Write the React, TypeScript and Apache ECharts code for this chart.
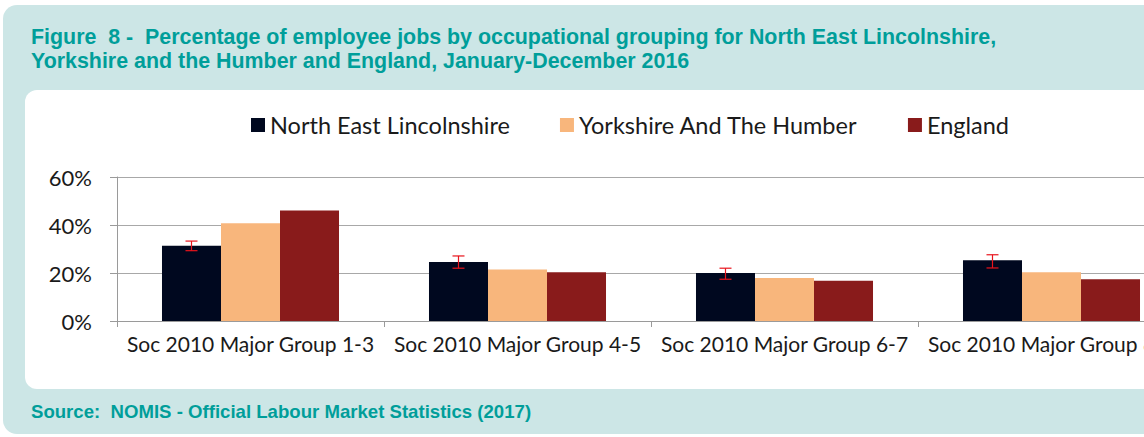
import React, { useEffect, useRef } from "react";
import * as echarts from "echarts";

const categories = [
  "Soc 2010 Major Group 1-3",
  "Soc 2010 Major Group 4-5",
  "Soc 2010 Major Group 6-7",
  "Soc 2010 Major Group 8-9",
];
const seriesNames = ["North East Lincolnshire", "Yorkshire And The Humber", "England"];
const northEastLincs = [31.4, 24.6, 20.0, 25.3];
const yorkshireHumber = [40.7, 21.5, 17.9, 20.3];
const england = [46.0, 20.3, 16.8, 17.4];
const nelLower = [29.3, 22.0, 17.4, 22.1];
const nelUpper = [33.3, 27.1, 22.0, 27.6];
const yTicks = [0, 20, 40, 60];

const titleLines = [
  "Figure  8 -  Percentage of employee jobs by occupational grouping for North East Lincolnshire,",
  "Yorkshire and the Humber and England, January-December 2016",
];
const sourceText = "Source:  NOMIS - Official Labour Market Statistics (2017)";

const COLORS = ["#00081f", "#f8b67c", "#891b1b"];
const CAT_GAP = 0.337;
const CHART_W = 1200;

export default function App() {
  const ref = useRef<HTMLDivElement>(null);
  useEffect(() => {
    if (!ref.current) return;
    const chart = echarts.init(ref.current, undefined, { renderer: "svg" });
    const teal = "#009e9a";
    chart.setOption({
      animation: false,
      backgroundColor: "#ffffff",
      graphic: [
        {
          type: "rect",
          z: -10,
          shape: { x: 3, y: 5, width: 1250, height: 429, r: 14 },
          style: { fill: "#cce6e6" },
        },
        {
          type: "rect",
          z: -9,
          shape: { x: 25, y: 90, width: 1250, height: 299, r: 12 },
          style: { fill: "#ffffff" },
        },
        {
          type: "text",
          x: 31,
          y: 37,
          style: {
            text: titleLines[0],
            font: 'bold 21.4px "Liberation Sans", Arial, sans-serif',
            fill: teal,
            verticalAlign: "middle",
          },
        },
        {
          type: "text",
          x: 31,
          y: 61,
          style: {
            text: titleLines[1],
            font: 'bold 21.4px "Liberation Sans", Arial, sans-serif',
            fill: teal,
            verticalAlign: "middle",
          },
        },
        {
          type: "text",
          x: 31,
          y: 411,
          style: {
            text: sourceText,
            font: 'bold 18.6px "Liberation Sans", Arial, sans-serif',
            fill: teal,
            verticalAlign: "middle",
          },
        },
      ],
      legend: {
        data: seriesNames,
        left: 246,
        top: 108,
        itemWidth: 14,
        itemHeight: 14,
        itemGap: 50,
        icon: "rect",
        textStyle: { fontFamily: "Lato", fontSize: 23.5, color: "#1a1a1a" },
      },
      grid: { left: 117, right: CHART_W - 117 - 4 * 267, top: 177, bottom: 116 },
      xAxis: {
        type: "category",
        data: categories,
        axisLine: { lineStyle: { color: "#9a9a9a" } },
        axisTick: { show: true, length: 6, lineStyle: { color: "#9a9a9a" } },
        axisLabel: { fontFamily: "Lato", fontSize: 21, color: "#1a1a1a", margin: 12, interval: 0 },
      },
      yAxis: {
        type: "value",
        min: yTicks[0],
        max: yTicks[yTicks.length - 1],
        interval: 20,
        axisLine: { show: true, lineStyle: { color: "#9a9a9a" } },
        axisTick: { show: true, length: 7, lineStyle: { color: "#9a9a9a" } },
        splitLine: { lineStyle: { color: "#a8a8a8" } },
        axisLabel: { fontFamily: "Lato", fontSize: 22, color: "#1a1a1a", margin: 25, formatter: "{value}%" },
      },
      series: [
        {
          name: seriesNames[0],
          type: "bar",
          data: northEastLincs,
          itemStyle: { color: COLORS[0] },
          barGap: "0%",
          barCategoryGap: CAT_GAP * 100 + "%",
        },
        {
          name: seriesNames[1],
          type: "bar",
          data: yorkshireHumber,
          itemStyle: { color: COLORS[1] },
          barGap: "0%",
          barCategoryGap: CAT_GAP * 100 + "%",
        },
        {
          name: seriesNames[2],
          type: "bar",
          data: england,
          itemStyle: { color: COLORS[2] },
          barGap: "0%",
          barCategoryGap: CAT_GAP * 100 + "%",
        },
        {
          name: "error",
          type: "custom",
          z: 5,
          data: categories.map((_, i) => [i, nelLower[i], nelUpper[i]]),
          encode: { x: 0, y: [1, 2] },
          renderItem: (params: any, api: any) => {
            const cat = api.value(0);
            const lo = api.coord([cat, api.value(1)]);
            const hi = api.coord([cat, api.value(2)]);
            const band = api.size([1, 0])[0];
            const barW = (band * (1 - CAT_GAP)) / 3;
            const x = lo[0] - barW;
            const cap = 6;
            const st = { stroke: "#e8141c", lineWidth: 1.2 };
            return {
              type: "group",
              children: [
                { type: "line", shape: { x1: x, y1: lo[1], x2: x, y2: hi[1] }, style: st },
                { type: "line", shape: { x1: x - cap, y1: lo[1], x2: x + cap, y2: lo[1] }, style: st },
                { type: "line", shape: { x1: x - cap, y1: hi[1], x2: x + cap, y2: hi[1] }, style: st },
              ],
            };
          },
        },
      ],
    });
    return () => chart.dispose();
  }, []);
  return (
    <div style={{ position: "fixed", left: 0, top: 0, width: 1144, height: 437, overflow: "hidden" }}>
      <div ref={ref} style={{ width: CHART_W, height: 437 }} />
    </div>
  );
}
